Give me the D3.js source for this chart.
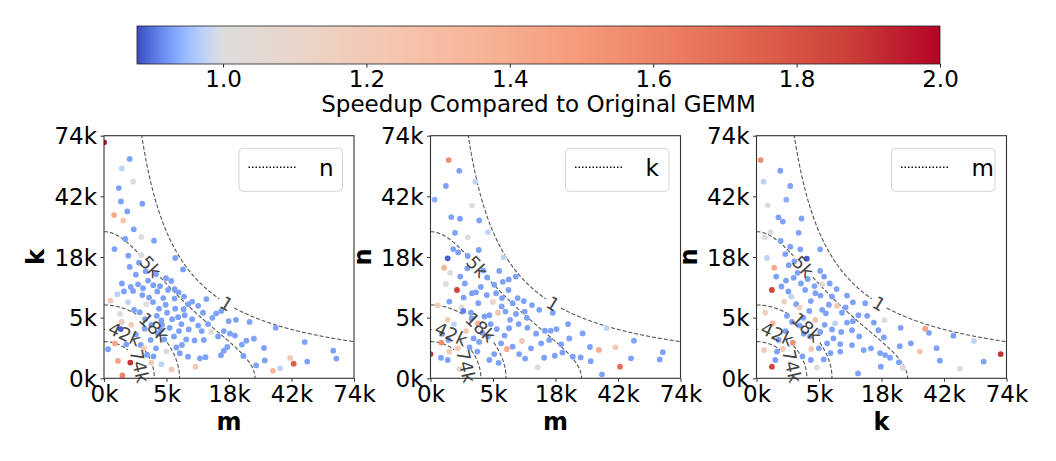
<!DOCTYPE html>
<html>
<head>
<meta charset="utf-8">
<script src="https://cdn.jsdelivr.net/npm/d3@7"></script>
<style>
  body { margin: 0; background: #fff; }
  text { font-family: "DejaVu Sans", sans-serif; }
</style>
</head>
<body>
<script>
// ---- data ----
const axisMax = 74000;
const tickValues = [0, 4625, 18500, 41625, 74000];
const tickLabels = ["0k", "5k", "18k", "42k", "74k"];

// dashed iso-lines of the third dimension (memory budget m*k + n*(m+k) = budget)
const memoryBudget = 1.25e8;
const contourLevels = [1, 4625, 18500, 41625, 74000];
const contourLabels = ["1", "5k", "18k", "42k", "74k"];
const contourLabelAt = [17800, 2580, 2960, 507, 1500];

const speedMin = 0.88, speedCenter = 1.0, speedMax = 2.0;
const cbarTicks = [1.0, 1.2, 1.4, 1.6, 1.8, 2.0];

// [x (k), y (k), speedup]
const mkPoints = [
  [0.0,70.0,2.0],[0.78,60.5,0.93],[0.38,55.4,0.975],[1.0,48.6,1.01],[0.26,45.5,0.93],[0.34,39.3,0.93],
  [1.74,38.3,0.93],[0.64,35.0,0.93],[0.12,33.5,1.42],[0.44,31.3,1.25],[1.05,27.9,0.93],[1.65,25.1,1.0],
  [0.54,24.4,0.93],[2.96,23.8,0.93],[0.13,21.0,0.93],[0.7,18.9,0.93],[1.65,19.1,1.02],[6.0,18.2,0.93],
  [0.78,15.6,0.93],[2.06,14.4,0.93],[7.39,14.9,0.93],[4.55,12.6,0.93],[0.38,11.3,0.93],[2.87,10.9,0.93],
  [3.71,10.7,0.93],[5.36,11.9,0.93],[0.85,10.5,0.93],[1.37,11.1,0.93],[0.47,9.5,0.93],[1.0,9.6,0.93],
  [3.36,9.5,0.93],[4.85,9.8,0.93],[1.74,8.7,0.93],[0.21,8.9,0.97],[7.58,8.4,0.93],[5.9,8.0,0.93],
  [4.16,8.1,0.93],[12.4,7.9,0.93],[0.05,7.6,1.22],[0.68,7.3,0.975],[2.11,6.9,1.0],[9.2,7.4,0.93],
  [2.84,7.3,0.93],[3.58,6.1,0.93],[4.5,6.8,0.93],[6.0,6.1,0.93],[7.5,6.0,0.93],[10.5,6.6,0.93],
  [1.07,5.9,0.93],[1.51,5.5,0.93],[0.3,5.2,1.02],[14.9,5.3,0.93],[16.3,5.7,0.93],[3.3,4.9,0.93],
  [4.7,5.4,0.93],[6.5,4.7,0.93],[7.7,5.0,0.93],[9.2,4.4,0.93],[10.5,3.5,0.93],[12.8,3.7,0.93],
  [13.6,2.7,1.02],[15.4,2.2,0.93],[17.0,2.8,0.93],[0.37,4.0,1.2],[0.88,3.6,1.2],[0.33,3.05,0.89],
  [1.96,3.1,0.93],[2.65,3.6,0.93],[3.8,2.9,0.93],[5.1,3.2,0.93],[6.66,2.8,0.93],[2.58,1.85,0.93],
  [3.45,2.5,0.93],[5.8,2.2,0.93],[8.0,1.9,0.93],[9.7,1.8,0.93],[11.8,1.85,0.93],[0.14,1.54,1.42],
  [0.59,1.45,0.93],[1.6,1.4,0.93],[1.9,1.13,1.2],[0.02,1.06,0.93],[3.2,1.13,0.93],[4.6,0.9,1.02],
  [6.8,0.79,0.93],[8.35,0.59,0.93],[10.9,0.5,0.93],[12.2,0.56,0.93],[17.0,0.96,0.93],[0.23,0.38,1.45],
  [0.82,0.31,1.9],[2.65,0.31,1.2],[3.9,0.25,0.975],[5.4,0.1,1.2],[9.9,0.17,1.2],[0.4,0.01,1.6],
  [18.4,4.1,0.93],[20.6,4.3,0.93],[25.1,4.0,0.93],[18.8,2.5,0.93],[20.3,2.3,0.93],[34.9,3.2,0.93],
  [24.0,1.78,0.93],[26.6,1.97,0.93],[22.5,1.43,0.93],[18.0,1.23,0.93],[16.2,0.67,0.93],[30.3,1.16,0.93],
  [47.7,1.65,0.93],[62.2,0.96,0.93],[63.9,0.49,0.93],[23.0,0.63,0.93],[30.6,0.4,0.93],[27.4,0.21,0.93],
  [41.0,0.52,1.2],[42.6,0.27,1.75],[36.7,0.13,0.975],[33.8,0.07,1.35],[48.9,0.35,0.93],
  [2.3,12.0,0.93],[1.2,13.5,0.93],[5.9,10.0,0.93],[2.4,8.2,0.93],[3.9,4.2,0.93],[5.5,4.4,0.93],
  [8.5,3.0,0.93],[4.3,1.9,0.93],[7.2,1.4,0.93],[1.2,2.4,0.93],[2.2,0.7,0.93],[11.3,2.8,0.93],
  [1.45,16.8,0.93],[3.2,13.6,0.93],[1.8,10.2,0.93],[6.6,9.3,0.93],[8.4,6.9,0.93],[11.6,5.4,0.93],
  [2.0,4.4,0.93],[4.0,3.6,0.93],[7.1,3.7,0.93],[13.9,4.6,0.93],[2.9,0.6,0.93],[6.2,1.2,0.93]
];

const mnPoints = [
  [0.39,59.9,1.55],[0.98,54.1,0.93],[2.38,48.6,0.975],[0.28,46.5,0.93],[0.02,40.1,0.94],[2.04,37.5,1.01],
  [0.51,32.7,0.93],[1.03,32.0,0.93],[2.81,31.3,0.93],[3.91,26.9,0.975],[0.71,26.6,0.93],[1.64,25.0,1.02],
  [0.61,21.0,0.93],[0.91,19.9,0.93],[2.76,20.7,0.93],[0.35,18.1,0.89],[1.64,18.8,0.93],[6.35,18.4,0.975],
  [0.22,15.4,1.35],[0.46,14.0,1.02],[1.05,13.0,0.93],[3.8,12.8,0.93],[5.6,14.5,0.93],[0.28,11.2,1.03],
  [1.4,11.3,0.93],[0.83,9.8,1.85],[6.2,11.7,0.93],[7.25,12.3,0.93],[8.6,13.0,0.93],[4.8,11.0,0.93],
  [2.04,9.1,0.93],[2.45,9.3,0.93],[3.75,8.7,0.93],[5.1,9.1,0.93],[0.42,7.4,0.93],[1.14,6.3,1.02],
  [2.7,7.1,0.93],[4.6,7.3,1.1],[6.05,8.1,0.93],[8.0,7.1,0.93],[9.0,8.1,0.93],[12.2,6.75,0.93],
  [0.06,6.7,1.2],[1.27,5.7,0.91],[1.94,5.4,0.93],[5.4,5.4,1.2],[6.66,5.6,0.93],[3.45,4.8,0.93],
  [4.1,5.0,0.93],[8.65,5.2,0.93],[10.5,5.6,0.93],[14.0,5.9,0.93],[17.7,5.4,0.93],[0.35,4.3,1.2],
  [0.65,3.7,0.975],[1.5,2.8,1.2],[2.63,3.8,1.35],[4.3,3.7,0.93],[5.2,3.05,0.93],[7.3,3.15,0.93],
  [9.2,3.7,0.93],[11.1,3.2,0.93],[13.2,2.5,0.93],[15.5,2.85,0.93],[0.16,2.5,0.93],[0.38,1.85,0.93],
  [2.8,1.66,0.93],[3.9,2.2,0.93],[5.9,1.54,0.93],[8.0,1.26,0.93],[9.9,1.75,1.2],[6.9,1.08,1.4],
  [11.96,1.13,0.93],[14.5,1.54,0.93],[16.7,1.85,0.93],[0.0,0.74,1.9],[0.13,0.53,0.93],[0.42,0.9,1.2],
  [0.88,1.13,1.2],[0.35,0.42,0.93],[0.98,0.11,1.03],[4.1,0.42,0.93],[4.8,0.74,0.93],[9.3,0.74,0.93],
  [10.6,0.49,0.93],[13.6,0.15,1.02],[15.3,0.53,0.93],[0.14,1.6,1.55],
  [22.4,3.7,0.93],[18.8,3.05,0.93],[17.1,2.85,0.93],[27.4,2.53,0.93],[36.7,3.17,0.975],[22.8,2.0,0.93],
  [20.2,1.45,0.93],[49.0,1.78,0.93],[30.1,1.23,0.93],[33.6,1.01,1.4],[40.5,1.21,1.2],[20.6,0.83,0.93],
  [18.3,0.64,0.93],[24.0,0.59,0.93],[26.7,0.55,0.93],[30.4,0.37,0.93],[63.9,0.86,0.93],[62.2,0.45,0.93],
  [47.6,0.5,0.93],[42.5,0.17,1.7],[34.8,0.02,0.93],
  [2.0,4.5,0.93],[3.0,10.5,0.93],[6.0,6.5,0.93],[7.5,4.3,0.93],[3.2,2.6,0.93],[6.5,2.3,0.93],
  [1.8,1.2,0.93],[2.6,0.9,0.93],[5.5,0.3,0.93],[11.0,4.6,0.93],
  [1.6,15.2,0.93],[3.3,14.6,0.93],[1.3,8.2,0.93],[7.2,9.8,0.93],[10.3,7.5,0.93],[2.2,2.0,0.93]
];

const knPoints = [
  [0.02,59.9,1.55],[0.67,54.2,0.93],[0.06,48.6,0.975],[1.35,46.5,0.93],[1.05,40.1,0.94],[0.15,37.6,1.02],
  [0.57,32.6,0.93],[0.82,30.9,0.93],[2.4,32.1,0.93],[0.24,26.9,1.02],[0.08,25.0,1.04],[2.1,26.6,0.93],
  [0.69,23.7,0.93],[1.35,21.8,0.93],[2.27,20.9,0.93],[4.8,20.9,0.93],[0.98,19.4,0.93],[0.13,18.2,0.975],
  [3.0,18.0,0.89],[0.37,15.4,1.4],[1.23,16.1,0.93],[0.46,13.0,0.93],[1.03,12.0,0.93],[1.64,12.7,0.93],
  [4.8,14.5,0.93],[5.4,13.0,0.93],[2.34,11.3,0.93],[3.98,10.7,0.93],[5.1,11.1,1.03],[6.35,11.3,0.93],
  [0.28,9.8,1.85],[0.74,10.6,0.93],[1.43,8.4,0.975],[2.8,9.8,0.93],[4.1,9.1,0.93],[4.85,8.6,0.93],
  [6.75,8.4,0.93],[9.7,8.6,0.93],[11.0,7.25,0.93],[14.0,7.1,0.93],[0.91,7.4,1.15],[1.87,6.9,0.93],
  [2.19,6.3,1.15],[3.3,5.7,0.93],[5.1,5.9,0.93],[5.7,5.3,0.93],[7.67,6.6,1.2],[8.65,5.4,0.93],
  [0.09,5.4,1.15],[1.1,4.9,0.93],[1.49,4.0,0.93],[4.1,4.3,1.25],[7.3,3.8,0.975],[9.7,3.9,0.93],
  [11.0,4.1,0.93],[14.5,4.9,0.93],[16.3,3.9,0.93],[17.6,2.9,0.93],[0.31,3.8,1.35],[2.64,2.5,0.93],
  [3.4,2.2,0.93],[4.8,2.7,0.93],[6.75,3.0,0.93],[8.5,2.7,0.93],[10.8,2.9,0.93],[1.56,1.6,1.55],
  [0.58,1.85,0.93],[0.07,1.0,1.2],[0.82,1.08,1.2],[3.55,1.08,1.2],[4.6,1.13,0.93],[5.9,1.54,0.93],
  [8.3,1.47,0.93],[8.3,0.9,0.93],[10.8,1.39,0.93],[13.6,1.0,0.93],[15.5,1.13,0.93],[0.5,0.9,0.93],
  [0.42,0.42,0.93],[0.28,0.17,1.85],[3.5,0.42,0.93],[5.35,0.45,0.93],[4.33,0.15,1.02],[12.2,0.03,0.93],
  [19.4,4.26,1.03],[24.6,3.2,0.93],[33.7,3.1,1.45],[35.2,2.6,0.93],[45.9,2.28,0.93],[56.0,1.76,0.975],
  [19.2,2.1,0.93],[28.2,1.54,0.93],[24.3,1.3,0.93],[38.4,1.14,0.93],[31.6,0.9,1.25],[18.1,0.8,0.93],
  [19.6,0.68,0.93],[21.1,0.53,0.93],[39.8,0.39,0.93],[61.1,0.35,0.93],[70.6,0.74,1.9],[24.0,0.32,0.93],
  [18.3,0.17,0.93],[25.3,0.14,1.02],[49.0,0.12,1.02],
  [2.0,14.0,0.93],[3.5,7.5,0.93],[6.2,6.8,0.93],[7.0,2.0,0.93],[2.2,3.5,0.93],[12.5,2.2,0.93],
  [1.0,2.8,0.93],[2.5,0.6,0.93],[6.5,0.8,0.93],
  [1.7,17.2,0.93],[3.1,12.4,0.93],[1.2,9.5,0.93],[7.6,10.0,0.93],[9.4,6.3,0.93],[12.3,5.0,0.93],
  [2.6,4.6,0.93],[5.5,3.6,0.93]
];

const panels = [
  { xName: "m", yName: "k", other: "n", points: mkPoints },
  { xName: "m", yName: "n", other: "k", points: mnPoints },
  { xName: "k", yName: "n", other: "m", points: knPoints }
];

// ---- colour map (matplotlib coolwarm) with a two-slope norm centred on 1.0 ----
const coolwarmStops = [
  [59,76,192],[77,104,215],[98,130,234],[119,154,247],[141,176,254],[163,194,255],[184,208,249],
  [204,217,238],[221,221,221],[236,211,197],[245,196,173],[247,177,148],[244,154,123],[236,127,99],
  [222,96,77],[203,62,56],[180,4,38]
];
const coolwarm = d3.scaleLinear()
  .domain(coolwarmStops.map((d, i) => i / (coolwarmStops.length - 1)))
  .range(coolwarmStops.map(c => d3.rgb(c[0], c[1], c[2])))
  .interpolate(d3.interpolateRgb)
  .clamp(true);
const norm = v => v < speedCenter
  ? 0.5 * (v - speedMin) / (speedCenter - speedMin)
  : 0.5 + 0.5 * (v - speedCenter) / (speedMax - speedCenter);
const colorOf = v => coolwarm(Math.max(0, Math.min(1, norm(v))));

// ---- layout ----
const W = 1056, H = 461;
const svg = d3.select("body").append("svg")
  .attr("width", W).attr("height", H)
  .style("background", "#fff");
const defs = svg.append("defs");

const fs = 23;

// colourbar
const cb = { x0: 137, x1: 940, y0: 26, y1: 64 };
const cbScale = d3.scaleLinear().domain([speedMin, speedMax]).range([cb.x0, cb.x1]);
const grad = defs.append("linearGradient").attr("id", "cbgrad");
d3.range(0, 1.0001, 0.005).forEach(t => {
  const v = speedMin + t * (speedMax - speedMin);
  grad.append("stop").attr("offset", t).attr("stop-color", colorOf(v));
});
svg.append("rect")
  .attr("x", cb.x0).attr("y", cb.y0)
  .attr("width", cb.x1 - cb.x0).attr("height", cb.y1 - cb.y0)
  .attr("fill", "url(#cbgrad)")
  .attr("stroke", "#222").attr("stroke-width", 0.8);
const cbAxis = svg.append("g")
  .attr("transform", `translate(0,${cb.y1})`)
  .call(d3.axisBottom(cbScale).tickValues(cbarTicks).tickFormat(d3.format(".1f")).tickSize(3.5).tickPadding(3));
cbAxis.select(".domain").remove();
cbAxis.selectAll("text").attr("font-size", fs).attr("fill", "#000").style("font-family", "DejaVu Sans");
cbAxis.selectAll("line").attr("stroke", "#222");
svg.append("text")
  .attr("x", (cb.x0 + cb.x1) / 2).attr("y", 112)
  .attr("text-anchor", "middle").attr("font-size", fs)
  .text("Speedup Compared to Original GEMM");

// panels
const panelLefts = [104, 430.5, 756.5];
const pw = 250, plotTop = 135.7, plotBottom = 378.3;

panels.forEach((p, pi) => {
  const left = panelLefts[pi], right = left + pw;
  const x = d3.scaleSqrt().domain([0, axisMax]).range([left, right]);
  const y = d3.scaleSqrt().domain([0, axisMax]).range([plotBottom, plotTop]);
  const g = svg.append("g");

  const clipId = "clip" + pi;
  defs.append("clipPath").attr("id", clipId)
    .append("rect").attr("x", left).attr("y", plotTop).attr("width", pw).attr("height", plotBottom - plotTop);

  // contour curves
  const curveG = g.append("g").attr("clip-path", `url(#${clipId})`);
  const labelG = g.append("g");
  const other = c => (xv => (memoryBudget - c * xv) / (xv + c));
  contourLevels.forEach((c, ci) => {
    const f = other(c);
    const pts = [];
    for (let i = 0; i <= 800; i++) {
      const u = i / 800;
      const xv = axisMax * u * u;
      const yv = f(xv);
      if (yv < 0) { pts.push([memoryBudget / c, 0]); break; }
      pts.push([xv, Math.min(yv, axisMax * 1.5)]);
    }
    const pix = pts.map(d => [x(d[0]), y(d[1])]);
    // inline label
    const xl = contourLabelAt[ci];
    const lx = x(xl), ly = y(f(xl));
    const ul = Math.sqrt(xl / axisMax);
    const a0 = [x(axisMax * (ul - 0.01) ** 2), y(f(axisMax * (ul - 0.01) ** 2))];
    const a1 = [x(axisMax * (ul + 0.01) ** 2), y(f(axisMax * (ul + 0.01) ** 2))];
    const ang = Math.atan2(a1[1] - a0[1], a1[0] - a0[0]) * 180 / Math.PI;
    const lfs = 18;
    const half = contourLabels[ci].length * 0.62 * lfs / 2 + 3;
    const segs = [];
    let cur = [];
    pix.forEach(pt => {
      if (Math.hypot(pt[0] - lx, pt[1] - ly) < half) {
        if (cur.length) segs.push(cur);
        cur = [];
      } else cur.push(pt);
    });
    if (cur.length) segs.push(cur);
    segs.forEach(s => {
      curveG.append("path")
        .attr("d", d3.line()(s))
        .attr("fill", "none")
        .attr("stroke", "#555")
        .attr("stroke-width", 1.1)
        .attr("stroke-dasharray", "4,2");
    });
    labelG.append("text")
      .attr("transform", `translate(${lx},${ly}) rotate(${ang})`)
      .attr("text-anchor", "middle").attr("dy", "0.36em")
      .attr("font-size", lfs).attr("fill", "#444")
      .text(contourLabels[ci]);
  });

  // scatter points
  g.append("g").attr("clip-path", `url(#${clipId})`)
    .selectAll("circle").data(p.points).enter().append("circle")
    .attr("cx", d => x(d[0] * 1000))
    .attr("cy", d => y(d[1] * 1000))
    .attr("r", 2.9)
    .attr("fill", d => colorOf(d[2]));

  labelG.raise();

  // axes
  const xAxis = g.append("g").attr("transform", `translate(0,${plotBottom})`)
    .call(d3.axisBottom(x).tickValues(tickValues).tickFormat((d, i) => tickLabels[i]).tickSize(3.5).tickPadding(3.5));
  const yAxis = g.append("g").attr("transform", `translate(${left},0)`)
    .call(d3.axisLeft(y).tickValues(tickValues).tickFormat((d, i) => tickLabels[i]).tickSize(3.5).tickPadding(3.5));
  [xAxis, yAxis].forEach(a => {
    a.select(".domain").remove();
    a.selectAll("text").attr("font-size", fs).attr("fill", "#000").style("font-family", "DejaVu Sans");
    a.selectAll("line").attr("stroke", "#333");
  });
  yAxis.selectAll("text").attr("dy", "0.36em");

  // frame
  g.append("rect")
    .attr("x", left).attr("y", plotTop).attr("width", pw).attr("height", plotBottom - plotTop)
    .attr("fill", "none").attr("stroke", "#333").attr("stroke-width", 1.1);

  // axis titles
  g.append("text")
    .attr("x", (left + right) / 2).attr("y", 430)
    .attr("text-anchor", "middle").attr("font-size", 24).attr("font-weight", "bold")
    .text(p.xName);
  g.append("text")
    .attr("transform", `translate(${left - 60},${(plotTop + plotBottom) / 2}) rotate(-90)`)
    .attr("text-anchor", "middle").attr("font-size", 24).attr("font-weight", "bold")
    .text(p.yName);

  // legend
  const lgX = right - 11.5 - 103.5, lgY = plotTop + 12.6;
  g.append("rect")
    .attr("x", lgX).attr("y", lgY).attr("width", 103.5).attr("height", 43)
    .attr("rx", 4).attr("fill", "#fff").attr("fill-opacity", 0.8)
    .attr("stroke", "#d5d5d5").attr("stroke-width", 1);
  g.append("line")
    .attr("x1", lgX + 9.5).attr("x2", lgX + 57.5)
    .attr("y1", lgY + 19).attr("y2", lgY + 19)
    .attr("stroke", "#111").attr("stroke-width", 1.5)
    .attr("stroke-dasharray", "1.5,2");
  g.append("text")
    .attr("x", lgX + 80).attr("y", lgY + 28)
    .attr("font-size", fs)
    .text(p.other);
});
</script>
</body>
</html>
